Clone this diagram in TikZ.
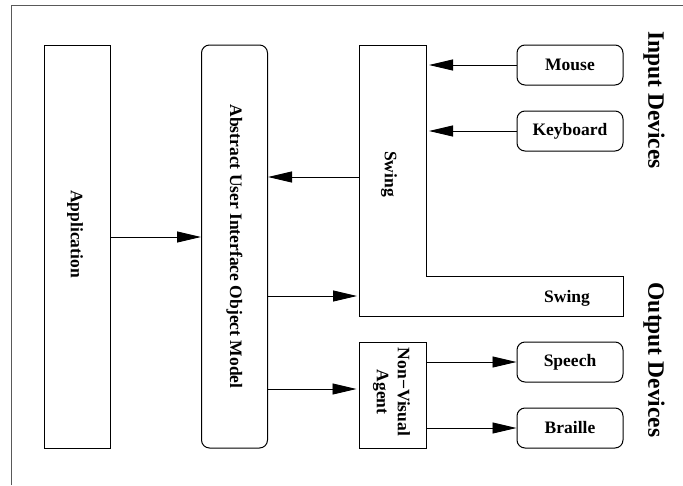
\documentclass[tikz,border=0pt]{standalone}
\usepackage{fontspec}
\setmainfont{Liberation Serif}
\usetikzlibrary{arrows.meta}
\tikzset{
    box/.style={draw, line width=1pt, inner sep=0pt},
    dev/.style={box, rounded corners=8pt, minimum width=106pt, minimum height=40pt,
        font=\fontsize{17.5}{21}\selectfont\bfseries},
    tall/.style={box, minimum width=66pt, minimum height=403pt},
    txt/.style={rotate=-90, align=center, inner sep=0pt,
        font=\fontsize{17.5}{21}\selectfont\bfseries},
    head/.style={rotate=-90, inner sep=0pt,
        font=\fontsize{23.5}{28}\selectfont\bfseries},
    arr/.style={-{Triangle[length=24pt, width=11pt]}, line width=0.9pt}
}
\begin{document}
\begin{tikzpicture}[x=1pt, y=-1pt]
        \useasboundingbox 
            (0,0) rectangle (683,485);
        \draw 
            [gray!70!black, line width=1pt] (11,485) -- (11,5) -- (683,5);
        % left column
        \node 
            [tall] (app) at (77,246.5) {};
        \node 
            [txt] (applbl) at (75,234) {Application};
        \node 
            [tall, rounded corners=8pt] (model) at (234.5,246.5) {};
        \node 
            [txt] (modellbl) at (model) {Abstract User Interface Object Model};
        % swing
        \coordinate (swnw) at (359,45);
        \coordinate (swne) at (426,45);
        \coordinate (swin) at (426,276);
        \coordinate (swse) at (623,316);
        \draw 
            [line width=1pt] (swnw) -- (swne) -- (swin) -- (swin -| swse)
            -- (swse) -- (swse -| swnw) -- cycle;
        \node 
            [txt] (swing1) at (389,174) {Swing};
        \node 
            [txt, rotate=90] (swing2) at (567,298) {Swing};
        \node 
            [box, minimum width=67pt, minimum height=106pt] (agent) at (392.5,395) {};
        \node 
            [txt] (agentlbl) at (391.5,392) {Non\textminus Visual\\Agent};
        % devices
        \node 
            [dev] (mouse) at (570,65) {Mouse};
        \node 
            [dev] (keyboard) at (570,131) {Keyboard};
        \node 
            [dev] (speech) at (570,362) {Speech};
        \node 
            [dev] (braille) at (570,428) {Braille};
        \node 
            [head] (inp) at (654,100) {Input Devices};
        \node 
            [head] (outp) at (654,360) {Output Devices};
        % arrows
        \draw 
            [arr] (app.east |- 0,237) -- (model.west |- 0,237);
        \draw 
            [arr] (swnw |- 0,177) -- (model.east |- 0,177);
        \draw 
            [arr] (mouse.west) -- ([xshift=3pt]swne |- mouse.west);
        \draw 
            [arr] (keyboard.west) -- ([xshift=3pt]swne |- keyboard.west);
        \draw 
            [arr] (model.east |- 0,296) -- ([xshift=-2pt]swnw |- 0,296);
        \draw 
            [arr] (model.east |- 0,389) -- ([xshift=-2pt]agent.west |- 0,389);
        \draw 
            [arr] (agent.east |- speech.west) -- (speech.west);
        \draw 
            [arr] (agent.east |- braille.west) -- (braille.west);
\end{tikzpicture}
\end{document}
